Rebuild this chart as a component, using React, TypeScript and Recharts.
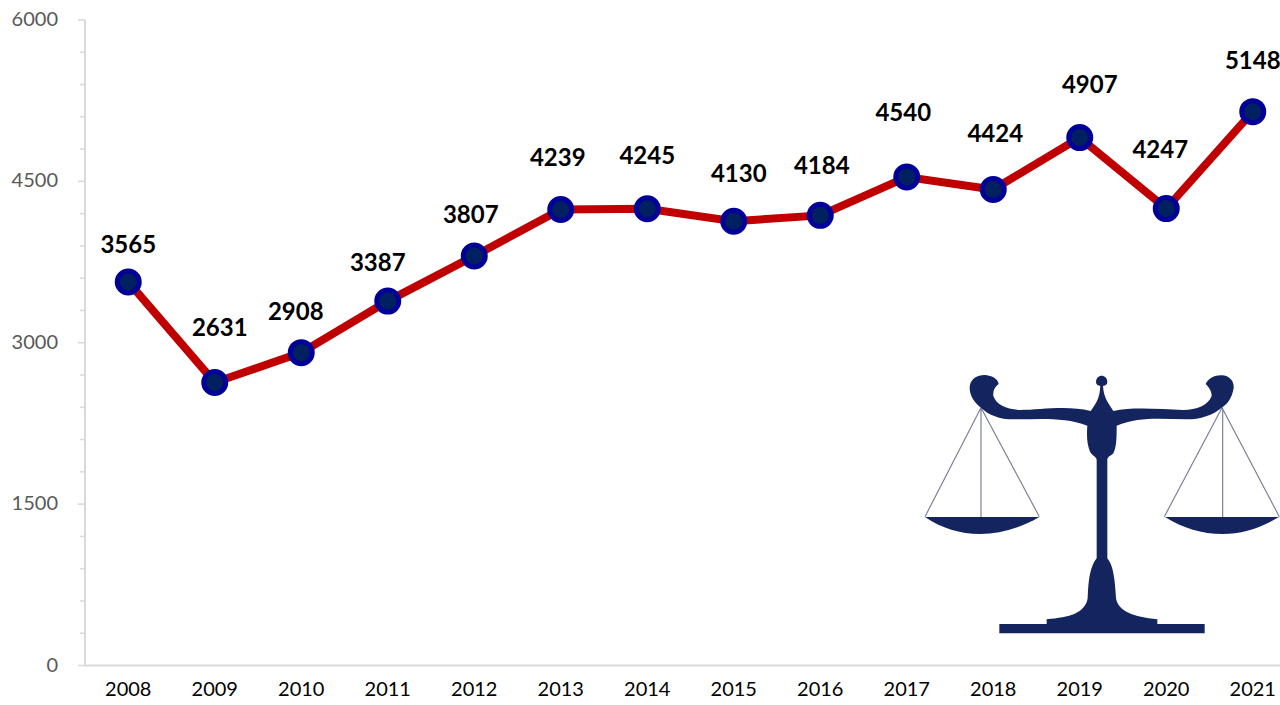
import { LabelList, Line, LineChart, XAxis, YAxis } from "recharts";

const YEARS = ["2008", "2009", "2010", "2011", "2012", "2013", "2014", "2015", "2016", "2017", "2018", "2019", "2020", "2021"];
const CASES = [3565, 2631, 2908, 3387, 3807, 4239, 4245, 4130, 4184, 4540, 4424, 4907, 4247, 5148];
const Y_TICKS = [0, 300, 600, 900, 1200, 1500, 1800, 2100, 2400, 2700, 3000, 3300, 3600, 3900, 4200, 4500, 4800, 5100, 5400, 5700, 6000];
// value labels were hand-placed in the original, so each has its own nudge
const LABEL_LIFT = [37, 54, 41, 38, 41, 51, 53, 47, 49, 64, 56, 53, 59, 51];
const LABEL_SHIFT = [0, 5, -5.5, -10, -3.5, -3, 0, 5, 1.5, -3.5, 2, 10, -6, 0];

const FONT = "Lato, sans-serif";
const AXIS_GREY = "#d9d9d9";
const LOGO_NAVY = "#14245f";

const data = YEARS.map((year, i) => ({ year, cases: CASES[i] }));

function YTick(props: any) {
  const { y = 0, payload } = props;
  const major = payload.value % 1500 === 0;
  return (
    <g>
      <line x1={85} x2={major ? 78 : 80} y1={y} y2={y} stroke={AXIS_GREY} strokeWidth={1.5} />
      {major && (
        <text x={58} y={y} dy={6} textAnchor="end" fontFamily={FONT} fontSize={20} fill="#595959">
          {payload.value}
        </text>
      )}
    </g>
  );
}

function ValueLabel(props: any) {
  const { x = 0, y = 0, value, index } = props;
  return (
    <text
      x={x + LABEL_SHIFT[index]}
      y={y - LABEL_LIFT[index]}
      dy={8}
      textAnchor="middle"
      fontFamily={FONT}
      fontSize={24}
      fontWeight={700}
      fill="#000"
    >
      {value}
    </text>
  );
}

// scales emblem, traced in a 3x canvas from its corner at (900,360)
function ScalesLogo() {
  return (
    <svg width={380} height={345} viewBox="0 0 1140 1035" style={{ position: "absolute", left: 900, top: 360 }}>
      <g fill="none" stroke="#7a8194" strokeWidth={3.5}>
        <path d="M75 470 L243 143 L418 470 M243 143 L243 473" />
        <path d="M793 470 L966 143 L1138 470 M968 143 L968 473" />
      </g>
      <g fill={LOGO_NAVY}>
        <path d="M75 471 L418 471 C360 505 300 522 240 522 C180 522 125 505 75 471 Z" />
        <path d="M795 471 L1137 471 C1080 505 1025 522 968 522 C905 522 850 505 795 471 Z" />
        <path d="M588 66 C588 54 596 47 605 47 C614 47 622 54 622 66 C622 74 616 78 605 78 C594 78 588 74 588 66 Z" />
        <path d="M243 143 C220 125 205 100 210 75 C215 50 245 40 270 48 C285 52 295 62 296 72 C285 80 278 92 280 108 C290 135 320 148 360 150 C420 150 500 135 572 153 C585 135 600 118 601 76 L609 76 C610 112 625 130 640 153 C700 140 780 148 850 150 C890 150 925 135 935 108 C935 92 925 80 917 72 C925 55 945 45 965 46 C990 47 1003 65 1001 85 C995 115 985 130 965 143 C940 165 900 178 860 178 C790 178 720 168 650 197 C650 230 650 260 640 280 C632 288 622 290 622 300 L622 595 C640 615 645 660 648 715 C655 755 700 770 772 778 L772 792 L914 792 L914 820 L298 820 L298 792 L440 792 L440 778 C510 772 555 760 563 715 C565 660 570 620 590 595 L590 300 C590 290 578 288 570 275 C560 250 560 225 562 197 C490 170 420 178 340 178 C300 178 265 165 243 143 Z" />
      </g>
    </svg>
  );
}

export default function App() {
  return (
    <div style={{ position: "absolute", left: 0, top: 0, width: 1280, height: 705, overflow: "hidden", background: "#fff" }}>
      <LineChart width={1320} height={705} data={data} margin={{ top: 20, right: 24, bottom: 0, left: 0 }}>
        <XAxis
          dataKey="year"
          scale="band"
          interval={0}
          tickLine={false}
          axisLine={{ stroke: AXIS_GREY, strokeWidth: 2 }}
          tick={{ fontFamily: FONT, fontSize: 20, fill: "#000" }}
          tickMargin={10}
          height={39.5}
        />
        <YAxis
          width={85}
          domain={[0, 6000]}
          ticks={Y_TICKS}
          interval={0}
          tickLine={false}
          axisLine={{ stroke: AXIS_GREY, strokeWidth: 2 }}
          tick={YTick}
        />
        <Line
          dataKey="cases"
          type="linear"
          stroke="#c00000"
          strokeWidth={8}
          dot={{ r: 11, fill: "#002060", stroke: "#000099", strokeWidth: 5, fillOpacity: 1 }}
          isAnimationActive={false}
        >
          <LabelList dataKey="cases" content={ValueLabel} />
        </Line>
      </LineChart>
      <ScalesLogo />
    </div>
  );
}
